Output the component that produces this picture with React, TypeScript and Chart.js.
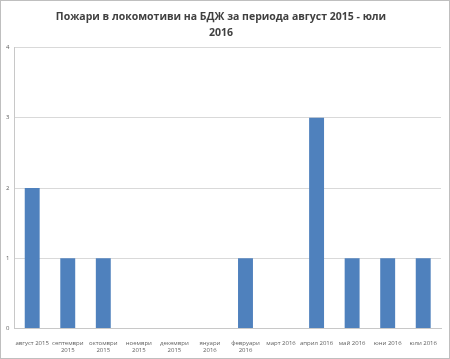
import React, { useEffect, useRef } from "react";
import { Chart, registerables } from "chart.js";

Chart.register(...registerables);

const categories: (string | string[])[] = [
  "август 2015",
  ["септември", "2015"],
  ["октомври", "2015"],
  ["ноември", "2015"],
  ["декември", "2015"],
  ["януари", "2016"],
  ["февруари", "2016"],
  "март 2016",
  "април 2016",
  "май 2016",
  "юни 2016",
  "юли 2016",
];
const fires = [2, 1, 1, 0, 0, 0, 1, 0, 3, 1, 1, 1];
const titleLines = ["Пожари в локомотиви на БДЖ за периода август 2015 - юли", "2016"];

export default function App() {
  const ref = useRef<HTMLCanvasElement | null>(null);
  useEffect(() => {
    if (!ref.current) return;
    const chart = new Chart(ref.current, {
      type: "bar",
      data: {
        labels: categories,
        datasets: [
          {
            data: fires,
            backgroundColor: "#4F81BD",
            categoryPercentage: 1,
            barPercentage: 0.42,
          },
        ],
      },
      options: {
        responsive: false,
        maintainAspectRatio: false,
        animation: false,
        layout: { padding: { left: 0, right: 8, top: 0, bottom: 1 } },
        plugins: {
          legend: { display: false },
          tooltip: { enabled: false },
          title: {
            display: true,
            text: titleLines,
            color: "#404040",
            font: { family: "Open Sans", size: 10.5, weight: "bold", lineHeight: 1.5 },
            padding: { top: 8, bottom: 7 },
          },
        },
        scales: {
          x: {
            grid: { display: false, drawTicks: true },
            border: { color: "#c8c8c8" },
            ticks: {
              color: "#606060",
              font: { family: "Open Sans", size: 6 },
              maxRotation: 0,
              minRotation: 0,
              autoSkip: false,
              padding: 3,
            },
          },
          y: {
            min: 0,
            max: 4,
            grid: { color: "#d9d9d9", drawTicks: false },
            border: { color: "#c8c8c8" },
            ticks: {
              stepSize: 1,
              color: "#606060",
              font: { family: "Open Sans", size: 6 },
              padding: 5,
            },
          },
        },
      },
    });
    return () => chart.destroy();
  }, []);
  return (
    <div
      style={{
        position: "fixed",
        left: 0,
        top: 0,
        width: 450,
        height: 359,
        boxSizing: "border-box",
        border: "1px solid #bfbfbf",
        background: "#fff",
      }}
    >
      <canvas ref={ref} width={448} height={357} style={{ display: "block" }} />
    </div>
  );
}
